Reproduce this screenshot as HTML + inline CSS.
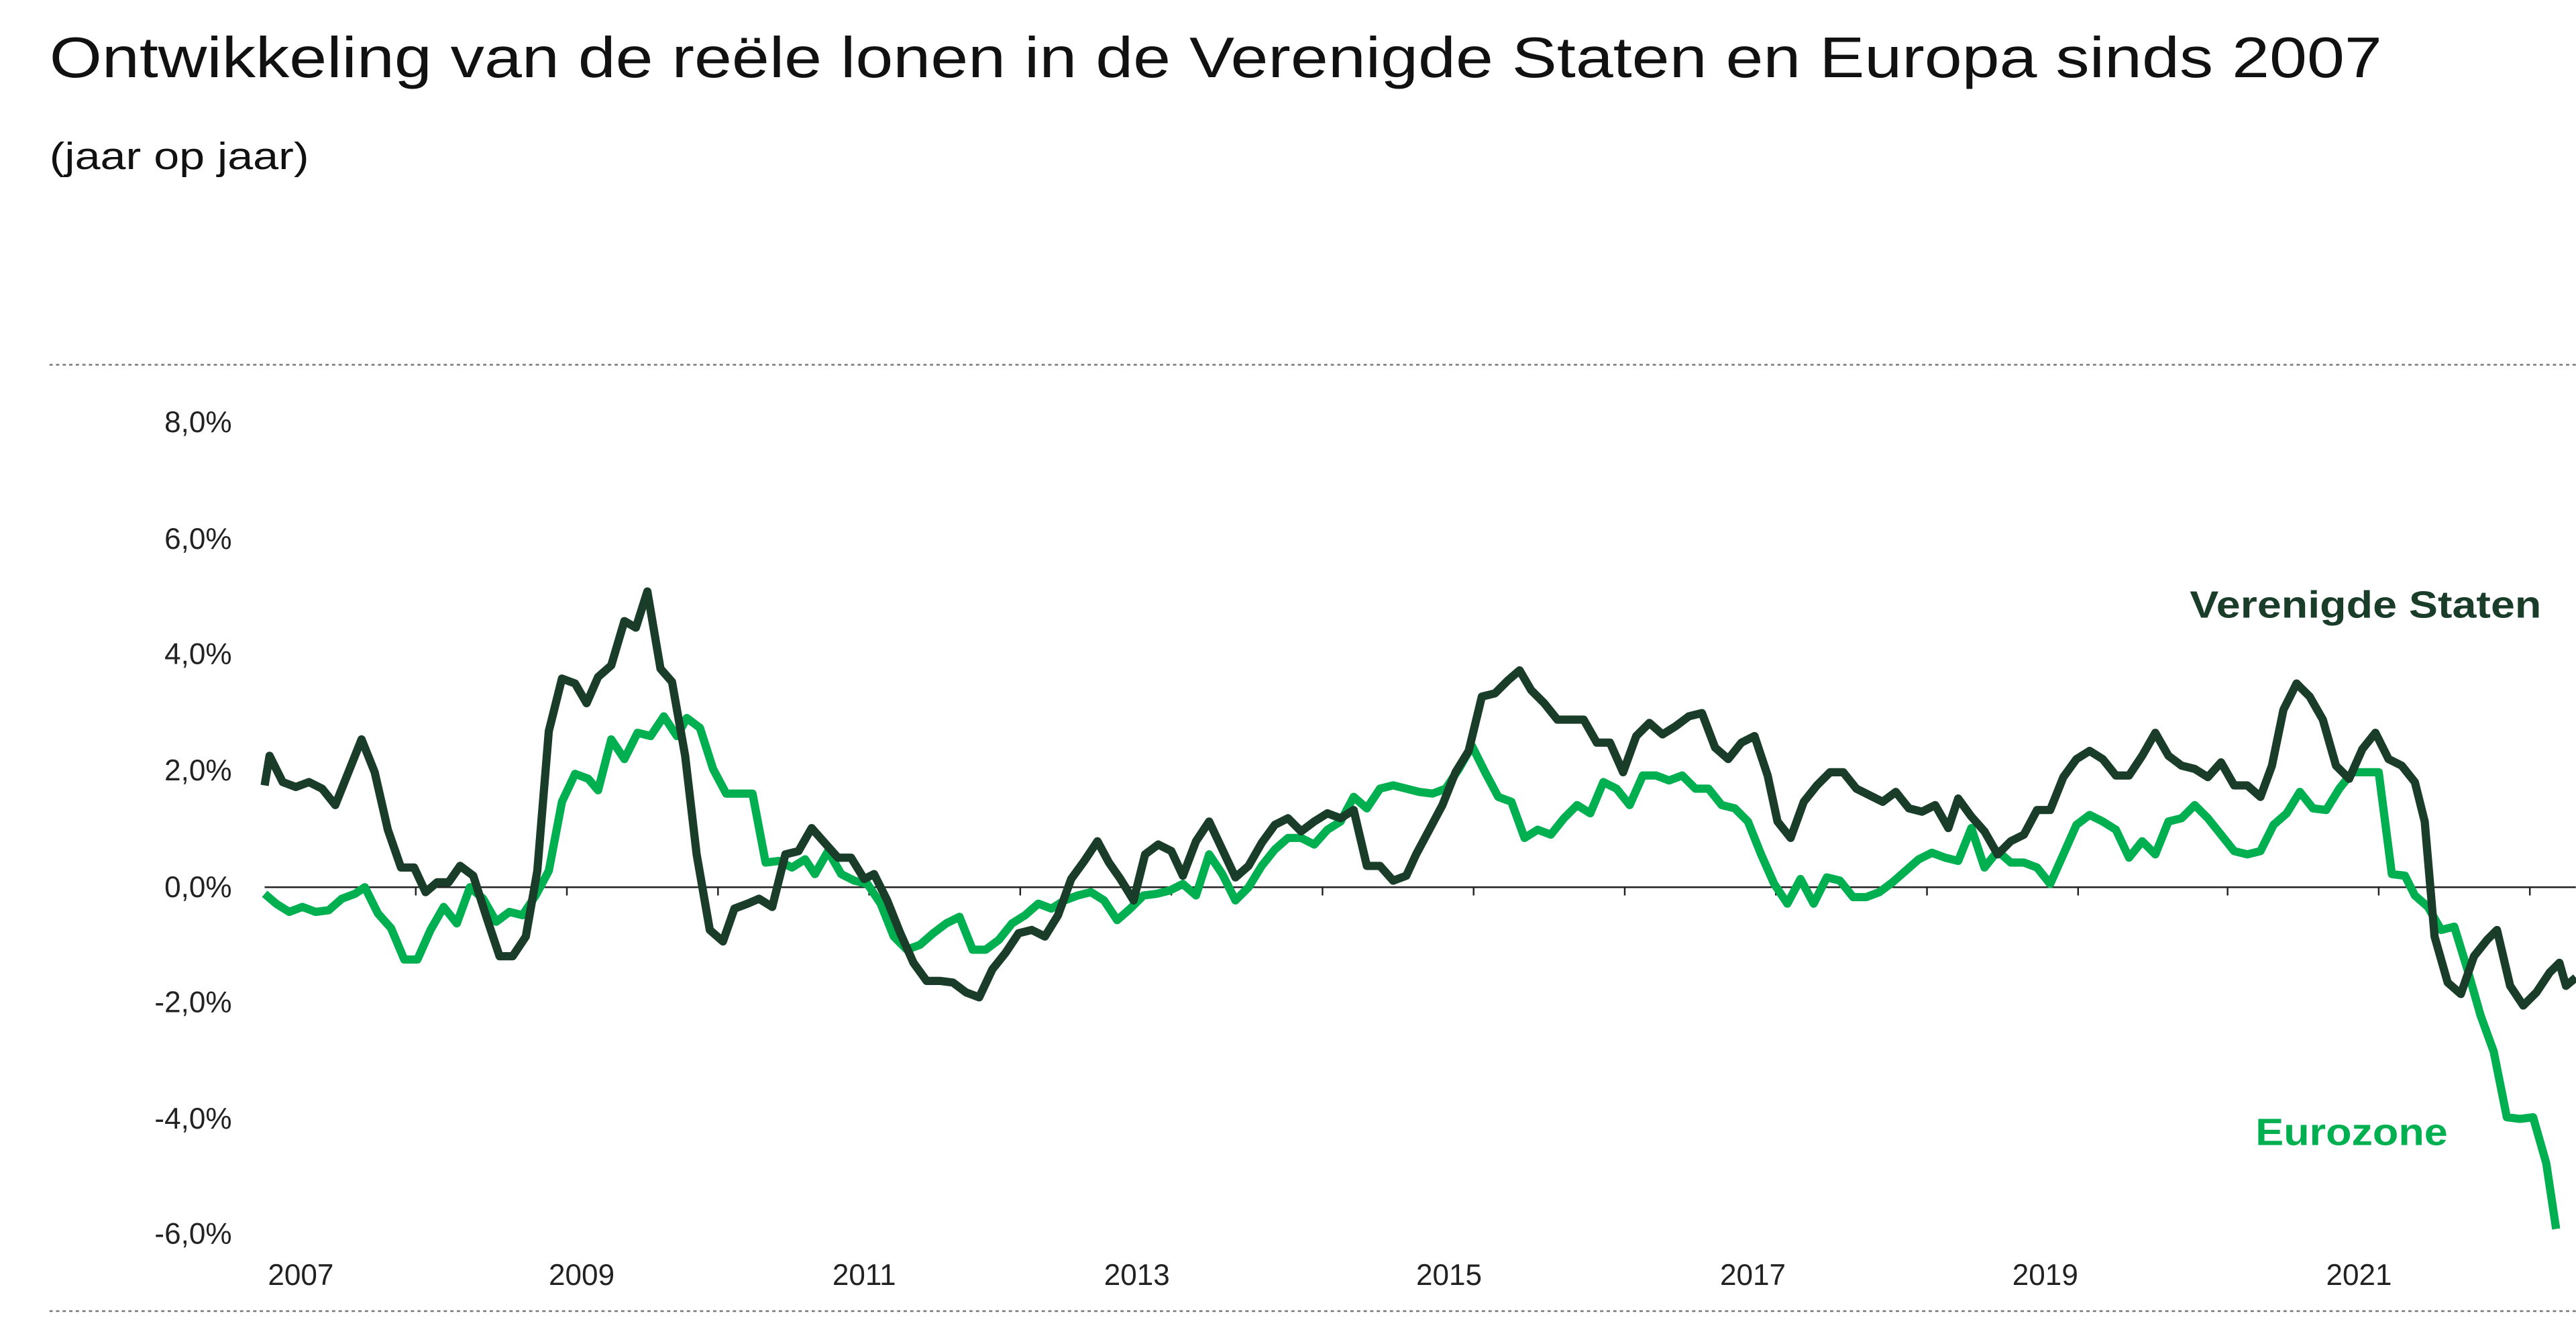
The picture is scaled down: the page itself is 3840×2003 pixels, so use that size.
<!DOCTYPE html>
<html><head><meta charset="utf-8"><style>
html,body{margin:0;padding:0;background:#fff;}
svg{display:block;}
text{font-family:"Liberation Sans",sans-serif;}
</style></head><body>
<svg width="3840" height="2003" viewBox="0 0 1568 818" xmlns="http://www.w3.org/2000/svg">
<rect width="1568" height="818" fill="#fff"/>
<text x="30" y="47" font-size="35" fill="#111" textLength="1420" lengthAdjust="spacingAndGlyphs">Ontwikkeling van de reële lonen in de Verenigde Staten en Europa sinds 2007</text>
<text x="30" y="103" font-size="23" fill="#111" textLength="158" lengthAdjust="spacingAndGlyphs">(jaar op jaar)</text>
<line x1="30" y1="222" x2="1568" y2="222" stroke="#777" stroke-width="1" stroke-dasharray="2,2"/>
<line x1="30" y1="798" x2="1568" y2="798" stroke="#777" stroke-width="1" stroke-dasharray="2,2"/>
<g font-size="18" fill="#222" text-anchor="end">
<text x="141" y="263">8,0%</text>
<text x="141" y="334">6,0%</text>
<text x="141" y="404">4,0%</text>
<text x="141" y="475">2,0%</text>
<text x="141" y="546">0,0%</text>
<text x="141" y="616">-2,0%</text>
<text x="141" y="687">-4,0%</text>
<text x="141" y="757">-6,0%</text>
</g>
<line x1="161" y1="540" x2="1568" y2="540" stroke="#222" stroke-width="1"/>
<g stroke="#222" stroke-width="1">
<line x1="253" y1="540" x2="253" y2="545"/><line x1="345" y1="540" x2="345" y2="545"/><line x1="437" y1="540" x2="437" y2="545"/><line x1="529" y1="540" x2="529" y2="545"/><line x1="621" y1="540" x2="621" y2="545"/><line x1="713" y1="540" x2="713" y2="545"/><line x1="805" y1="540" x2="805" y2="545"/><line x1="897" y1="540" x2="897" y2="545"/><line x1="989" y1="540" x2="989" y2="545"/><line x1="1081" y1="540" x2="1081" y2="545"/><line x1="1173" y1="540" x2="1173" y2="545"/><line x1="1265" y1="540" x2="1265" y2="545"/><line x1="1356" y1="540" x2="1356" y2="545"/><line x1="1448" y1="540" x2="1448" y2="545"/><line x1="1540" y1="540" x2="1540" y2="545"/>
</g>
<g font-size="18" fill="#222" text-anchor="middle">
<text x="183" y="782">2007</text><text x="354" y="782">2009</text><text x="526" y="782">2011</text><text x="692" y="782">2013</text><text x="882" y="782">2015</text><text x="1067" y="782">2017</text><text x="1245" y="782">2019</text><text x="1436" y="782">2021</text>
</g>
<polyline fill="none" stroke="#00b050" stroke-width="5" stroke-linejoin="round" points="161,544 168,550 176,555 184,552 192,555 200,554 208,547 216,544 222,540 230,556 238,565 246,584 254,584 262,566 270,552 278,562 286,540 294,547 302,561 310,555 318,557 326,545 334,530 342,488 350,471 358,474 364,481 372,450 380,462 388,446 396,448 404,436 412,448 418,437 426,443 434,468 442,483 450,483 458,483 466,525 474,524 482,528 490,523 496,532 504,518 512,532 520,536 528,538 536,550 544,570 552,578 560,575 568,568 576,562 584,558 592,578 600,578 608,572 616,562 624,557 632,550 640,553 648,548 656,545 664,543 672,548 680,560 688,553 696,545 704,544 712,542 720,538 728,545 736,520 744,532 752,548 760,540 768,527 776,517 784,510 792,510 800,514 808,505 816,500 824,485 832,492 840,480 848,478 856,480 864,482 872,483 880,480 888,468 896,454 904,470 912,485 920,488 928,510 936,505 944,508 952,498 960,490 968,495 976,476 984,480 992,490 1000,472 1008,472 1016,475 1024,472 1032,480 1040,480 1048,490 1056,492 1064,500 1072,520 1080,538 1088,550 1096,535 1104,550 1112,534 1120,536 1128,546 1136,546 1144,543 1152,537 1160,530 1168,523 1176,519 1184,522 1192,524 1200,504 1208,528 1216,518 1224,525 1232,525 1240,528 1248,538 1256,520 1264,502 1272,496 1280,500 1288,505 1296,522 1304,512 1312,520 1320,500 1328,498 1336,490 1344,498 1352,508 1360,518 1368,520 1376,518 1384,502 1392,495 1400,482 1408,492 1416,493 1424,480 1432,470 1440,470 1448,470 1456,532 1464,533 1470,545 1478,552 1486,566 1494,564 1502,590 1510,618 1518,640 1526,680 1534,681 1542,680 1550,708 1556,748"/>
<polyline fill="none" stroke="#1a3d2a" stroke-width="5" stroke-linejoin="round" points="161,478 164,460 172,476 180,479 188,476 196,480 204,490 212,470 220,450 228,470 236,505 244,528 252,528 259,543 266,537 273,537 280,527 288,533 296,558 304,582 312,582 320,570 327,530 334,445 342,413 350,416 357,428 364,412 372,405 380,378 387,382 394,360 402,407 409,415 417,460 424,520 432,566 440,573 447,553 455,550 462,547 470,552 478,520 486,518 494,504 502,513 510,522 518,522 526,535 532,532 540,548 548,568 556,586 564,597 572,597 580,598 588,604 596,607 604,590 612,580 620,568 628,566 636,570 644,557 652,535 660,524 668,512 675,525 682,535 690,548 697,520 705,514 713,518 720,533 728,512 736,500 744,517 752,534 760,527 768,513 776,502 784,498 792,506 800,500 808,495 816,498 824,493 832,527 840,527 848,536 856,533 862,520 870,505 878,490 886,470 894,457 902,424 910,422 918,414 925,408 932,420 940,428 948,438 956,438 964,438 972,452 980,452 988,470 996,448 1004,440 1012,447 1020,442 1028,436 1036,434 1044,455 1052,462 1060,452 1068,448 1076,472 1082,500 1090,510 1098,488 1106,478 1114,470 1122,470 1130,480 1138,484 1146,488 1154,482 1162,492 1170,494 1178,490 1186,504 1192,486 1200,497 1208,506 1216,520 1224,512 1232,508 1240,493 1248,493 1256,473 1264,462 1272,457 1280,462 1288,472 1296,472 1304,460 1312,446 1320,460 1328,466 1336,468 1344,473 1352,464 1360,478 1368,478 1376,485 1383,466 1390,432 1398,416 1406,424 1414,438 1422,466 1430,474 1438,456 1446,446 1454,462 1462,466 1470,476 1476,500 1482,570 1490,598 1498,605 1506,582 1514,572 1520,566 1528,600 1536,612 1544,604 1552,592 1558,586 1562,600 1568,595"/>
<text x="1333" y="376" font-size="23" font-weight="bold" fill="#1a3d2a" textLength="214" lengthAdjust="spacingAndGlyphs">Verenigde Staten</text>
<text x="1373" y="697" font-size="23" font-weight="bold" fill="#00b050" textLength="117" lengthAdjust="spacingAndGlyphs">Eurozone</text>
</svg>
</body></html>
